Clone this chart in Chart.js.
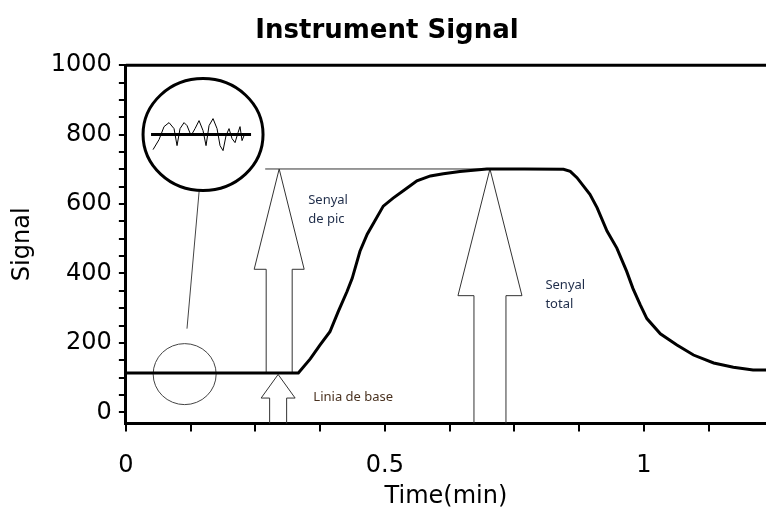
<!DOCTYPE html>
<html>
<head>
<meta charset="utf-8">
<title>Instrument Signal</title>
<script src="https://cdn.jsdelivr.net/npm/chart.js@4.4.1/dist/chart.umd.min.js"></script>
<style>
  html, body { margin: 0; padding: 0; background: #fff; }
  #signalChart { display: block; }
</style>
</head>
<body>
<canvas id="signalChart" width="766" height="509"></canvas>
<script>
// curve
var timeMin = [0, 0.333, 0.356, 0.375, 0.394, 0.410, 0.427, 0.437, 0.452, 0.466, 0.477, 0.497, 0.516, 0.543, 0.562, 0.588, 0.613, 0.645, 0.697, 0.770, 0.845,
               0.858, 0.871, 0.896, 0.910, 0.929, 0.948, 0.967, 0.979, 0.993, 1.006, 1.032, 1.064, 1.096, 1.135, 1.173, 1.211, 1.236];
var signal = [113, 113, 154, 194, 232, 290, 348, 386, 464, 513, 542, 594, 617, 646, 667, 681, 687, 694, 701, 701, 700,
              694, 676, 628, 589, 522, 473, 406, 357, 310, 270, 226, 194, 165, 142, 130, 122, 122];

var xTickLabels = [0, 0.5, 1];
var yTickLabels = [0, 200, 400, 600, 800, 1000];

var baseLevel = 113;
var peakLevel = 701;

var points = timeMin.map(function(t, i){ return {x: t, y: signal[i]}; });

var axisFont = { family: '"DejaVu Sans"', size: 24 };

function isLabel(list, v){
    return list.some(function(l){ return Math.abs(l - v) < 1e-6; });
}

// hollow arrow, from y0 (bottom) to yTip, in data units
function arrow(ctx, xs, ys, x, y0, yHead, yTip, shaft, head){
    var cx = xs.getPixelForValue(x);
    var b = ys.getPixelForValue(y0), h = ys.getPixelForValue(yHead), t = ys.getPixelForValue(yTip);
    ctx.beginPath();
    ctx.moveTo(cx - shaft, b);
    ctx.lineTo(cx - shaft, h);
    ctx.lineTo(cx - head, h);
    ctx.lineTo(cx, t);
    ctx.lineTo(cx + head, h);
    ctx.lineTo(cx + shaft, h);
    ctx.lineTo(cx + shaft, b);
    ctx.stroke();
}

var annotations = {
    id: 'annotations',
    beforeDatasetsDraw: function(chart){
        var ctx = chart.ctx, xs = chart.scales.x, ys = chart.scales.y, area = chart.chartArea;
        ctx.save();

        // frame top at 1000
        ctx.strokeStyle = '#000';
        ctx.lineWidth = 3;
        ctx.beginPath();
        ctx.moveTo(area.left, ys.getPixelForValue(1000));
        ctx.lineTo(chart.width, ys.getPixelForValue(1000));
        ctx.stroke();

        // level of the peak
        ctx.lineWidth = 1;
        ctx.strokeStyle = '#333';
        ctx.beginPath();
        ctx.moveTo(xs.getPixelForValue(0.269), ys.getPixelForValue(peakLevel));
        ctx.lineTo(xs.getPixelForValue(0.829), ys.getPixelForValue(peakLevel));
        ctx.stroke();

        arrow(ctx, xs, ys, 0.296, baseLevel, 412, peakLevel, 13, 25);
        arrow(ctx, xs, ys, 0.294, ys.min, 41, baseLevel - 4, 8.5, 17);
        arrow(ctx, xs, ys, 0.703, ys.min, 336, peakLevel, 16, 32);

        // small circle on the baseline
        var sx = xs.getPixelForValue(0.1135), sy = ys.getPixelForValue(110);
        ctx.strokeStyle = '#444';
        ctx.beginPath();
        ctx.ellipse(sx, sy, 31.5, 30.5, 0, 0, Math.PI * 2);
        ctx.stroke();

        // connector
        ctx.beginPath();
        ctx.moveTo(xs.getPixelForValue(0.1415), ys.getPixelForValue(638));
        ctx.lineTo(xs.getPixelForValue(0.118), ys.getPixelForValue(241));
        ctx.stroke();

        // zoomed circle with noise
        var bx = xs.getPixelForValue(0.149), by = ys.getPixelForValue(800);
        ctx.strokeStyle = '#000';
        ctx.lineWidth = 3;
        ctx.beginPath();
        ctx.ellipse(bx, by, 60, 56, 0, 0, Math.PI * 2);
        ctx.stroke();

        ctx.beginPath();
        ctx.moveTo(bx - 52, by);
        ctx.lineTo(bx + 48, by);
        ctx.stroke();

        var noise = [[-50, 15], [-44, 5], [-39, -8], [-34, -12], [-29, -6], [-26, 11], [-23, -6], [-19, -12], [-16, -9],
                     [-12, 1], [-8, -6], [-4, -14], [0, -4], [3, 11], [6, -9], [10, -16], [14, -6], [17, 11], [20, 16],
                     [23, 1], [26, -6], [29, 4], [32, 8], [35, -2], [37, -8], [39, 6], [41, 1]];
        ctx.lineWidth = 1;
        ctx.lineJoin = 'round';
        ctx.beginPath();
        noise.forEach(function(p, i){
            if(i === 0) ctx.moveTo(bx + p[0], by + p[1]);
            else ctx.lineTo(bx + p[0], by + p[1]);
        });
        ctx.stroke();

        // labels
        ctx.font = '13px "Noto Sans"';
        ctx.textBaseline = 'middle';
        ctx.textAlign = 'left';
        ctx.fillStyle = '#1f2d4a';
        ctx.fillText('Senyal', xs.getPixelForValue(0.352), ys.getPixelForValue(612));
        ctx.fillText('de pic', xs.getPixelForValue(0.352), ys.getPixelForValue(557));
        ctx.fillText('Senyal', xs.getPixelForValue(0.810), ys.getPixelForValue(365));
        ctx.fillText('total', xs.getPixelForValue(0.810), ys.getPixelForValue(310));
        ctx.fillStyle = '#4a3220';
        ctx.fillText('Linia de base', xs.getPixelForValue(0.362), ys.getPixelForValue(43));

        ctx.restore();
    }
};

var ctx = document.getElementById('signalChart').getContext('2d');
var myChart = new Chart(ctx, {
    type: 'line',
    data: {
        datasets: [{
            label: 'Signal',
            data: points,
            borderColor: '#000',
            borderWidth: 3,
            pointRadius: 0,
            fill: false,
            tension: 0
        }]
    },
    options: {
        responsive: false,
        animation: false,
        layout: { padding: { left: 8, right: 0, bottom: -2 } },
        plugins: {
            legend: { display: false },
            tooltip: { enabled: false },
            title: {
                display: true,
                text: 'Instrument Signal',
                color: '#000',
                font: { family: '"DejaVu Sans"', size: 26, weight: 'bold' },
                padding: { top: 16, bottom: 18 }
            }
        },
        scales: {
            x: {
                type: 'linear',
                min: 0,
                max: 1.236,
                border: { display: true, color: '#000', width: 3 },
                grid: { drawOnChartArea: false, drawTicks: true, tickLength: 8, color: '#000', lineWidth: 2 },
                ticks: {
                    stepSize: 0.125,
                    includeBounds: false,
                    autoSkip: false,
                    maxRotation: 0,
                    color: '#000',
                    padding: 20,
                    font: axisFont,
                    callback: function(v){ return isLabel(xTickLabels, v) ? String(Math.round(v * 10) / 10) : ''; }
                },
                title: {
                    display: true,
                    text: 'Time(min)',
                    color: '#000',
                    font: axisFont,
                    padding: { top: -18, bottom: 0 }
                }
            },
            y: {
                min: -32,
                max: 1000,
                border: { display: true, color: '#000', width: 3 },
                grid: { drawOnChartArea: false, drawTicks: true, tickLength: 7, color: '#000', lineWidth: 2 },
                ticks: {
                    stepSize: 50,
                    includeBounds: false,
                    autoSkip: false,
                    color: '#000',
                    padding: 7,
                    font: axisFont,
                    callback: function(v){ return isLabel(yTickLabels, v) ? String(v) : ''; }
                },
                title: {
                    display: true,
                    text: 'Signal',
                    color: '#000',
                    font: axisFont,
                    padding: { top: 0, bottom: 7 }
                }
            }
        }
    },
    plugins: [annotations]
});
</script>
</body>
</html>
